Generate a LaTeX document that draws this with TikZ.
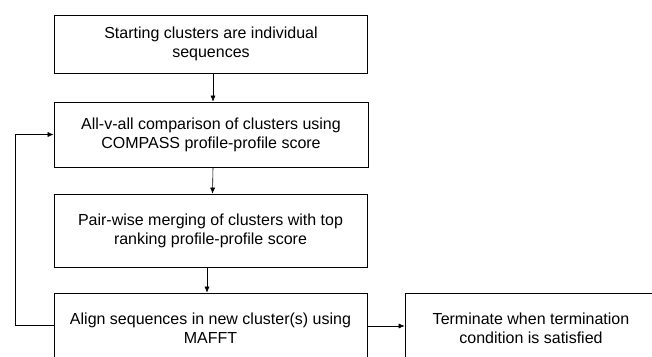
\documentclass[tikz,border=0pt]{standalone}
\usepackage{fontspec}
\setmainfont{Liberation Sans}
\usetikzlibrary{arrows.meta}
\begin{document}
\begin{tikzpicture}[x=1pt,y=-1pt,
  box/.style={draw=black, line width=0.7pt, align=center, inner sep=0pt,
    font=\fontsize{16}{19}\selectfont},
  arr/.style={draw=black, line width=0.6pt, -{Latex[length=6pt,width=5pt]}}]
\useasboundingbox (0,0) rectangle (652,356);
\clip (0,0) rectangle (652,356);
\fill[white] (0,0) rectangle (652,356);
\node[box, minimum width=313pt, minimum height=58pt] (b1) at (211,44) {\raisebox{-2pt}{\begin{tabular}{@{}c@{}}Starting clusters are individual\\sequences\end{tabular}}};
\node[box, minimum width=314pt, minimum height=65pt] (b2) at (211,134.5) {All-v-all comparison of clusters using\\COMPASS profile-profile score};
\node[box, minimum width=313pt, minimum height=73pt] (b3) at (210.5,230.5) {Pair-wise merging of clusters with top\\ranking profile-profile score};
\node[box, minimum width=313pt, minimum height=70pt] (b4) at (210.5,328) {Align sequences in new cluster(s) using\\MAFFT};
\node[box, minimum width=252pt, minimum height=70pt] (b5) at (531,328) {Terminate when termination\\condition is satisfied};
\draw[arr] ([xshift=2pt]b1.south) -- ([xshift=2pt]b2.north);
\draw[arr] ([xshift=2pt]b2.south) -- ([xshift=2pt]b3.north);
\draw[arr] ([xshift=-3.5pt]b3.south) -- ([xshift=-3.5pt]b4.north);
\coordinate (lp) at (15,0);
\draw[arr] ([yshift=3pt]b4.west) -- ([yshift=3pt]b4.west -| lp) |- (b2.west);
\draw[arr] ([yshift=2pt]b4.east) -- ([yshift=2pt]b4.east -| b5.west);
\end{tikzpicture}
\end{document}
